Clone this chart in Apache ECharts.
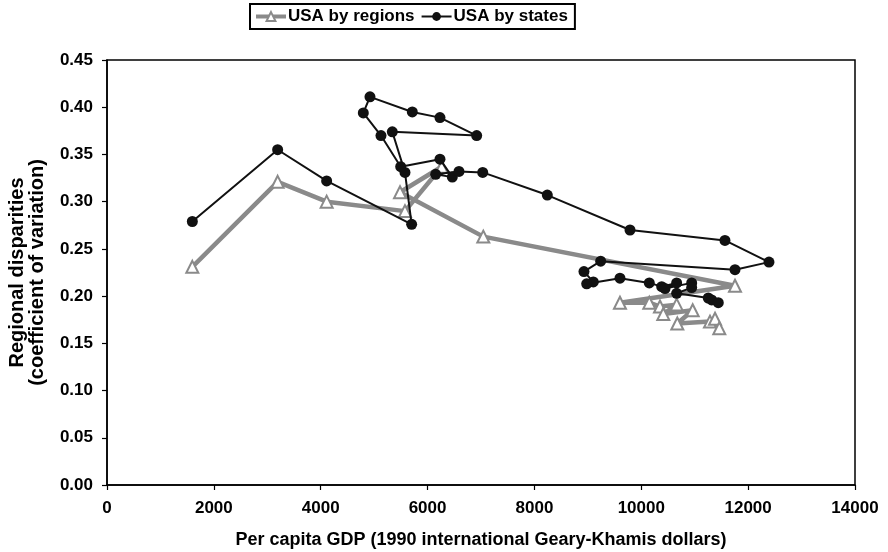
<!DOCTYPE html>
<html>
<head>
<meta charset="utf-8">
<script src="https://cdn.jsdelivr.net/npm/echarts@6/dist/echarts.min.js"></script>
<style>
  html, body { margin: 0; padding: 0; background: #fff; }
  #chart { width: 888px; height: 552px; }
</style>
</head>
<body>
<div id="chart"></div>
<script>
  // values
  var regionsGdp = [1597, 3194, 4111, 5577, 6264, 5484, 7043, 11754, 9601, 10150, 10350, 10662, 10412, 10962, 10674, 11286, 11380, 11460]
  var regionsCv = [0.231, 0.321, 0.300, 0.290, 0.337, 0.310, 0.263, 0.211, 0.193, 0.193, 0.189, 0.191, 0.181, 0.185, 0.171, 0.173, 0.176, 0.166]

  var statesGdp = [1597, 3194, 4111, 5702, 5577, 5340, 6919, 6232, 5714, 4922, 4797, 5128, 5497, 6232, 6463, 6152, 6588, 7032,
    8241, 9789, 11566, 12390, 11754, 9240, 8927, 9102, 8978, 9601, 10150, 10382, 10662, 10444, 10943, 10943, 10662, 11254, 11318, 11441]
  var statesCv = [0.279, 0.355, 0.322, 0.276, 0.331, 0.374, 0.370, 0.389, 0.395, 0.411, 0.394, 0.370, 0.337, 0.345, 0.326, 0.329, 0.332, 0.331,
    0.307, 0.270, 0.259, 0.236, 0.228, 0.237, 0.226, 0.215, 0.213, 0.219, 0.214, 0.210, 0.214, 0.208, 0.214, 0.209, 0.203, 0.198, 0.196, 0.193]

  var xTicks = [0, 14000, 2000]
  var yTicks = [0, 0.45, 0.05]

  function pairs (xs, ys) {
    return xs.map(function (x, i) { return [x, ys[i]] })
  }

  var font = 'Liberation Sans, Arial, sans-serif'
  var grey = '#8a8a8a'
  var dark = '#111'
  var chart = echarts.init(document.getElementById('chart'))

  var option = {
    animation: false,
    textStyle: { fontFamily: font },
    legend: {
      top: 4,
      left: 250,
      orient: 'horizontal',
      itemWidth: 30,
      itemHeight: 11,
      itemGap: 6,
      padding: [4, 7, 4, 4],
      borderColor: '#000',
      borderWidth: 2,
      textStyle: { fontFamily: font, fontWeight: 'bold', fontSize: 17, color: '#000', padding: [0, 0, 0, -3] },
      data: [
        { name: 'USA by regions', lineStyle: { color: grey, width: 4 }, itemStyle: { color: '#fff', borderColor: grey, borderWidth: 2 } },
        { name: 'USA by states', lineStyle: { color: dark, width: 2 }, itemStyle: { color: dark } }
      ]
    },
    grid: {
      left: 107,
      right: 33,
      top: 60,
      bottom: 67,
      show: true,
      borderColor: '#000',
      borderWidth: 1.5,
      containLabel: false,
      outerBoundsMode: 'none'
    },
    xAxis: {
      type: 'value',
      min: xTicks[0],
      max: xTicks[1],
      interval: xTicks[2],
      name: 'Per capita GDP (1990 international Geary-Khamis dollars)',
      nameLocation: 'middle',
      nameGap: 46,
      nameTextStyle: { fontFamily: font, fontWeight: 'bold', fontSize: 18, color: '#000' },
      axisLine: { lineStyle: { color: '#000', width: 1.5 } },
      axisTick: { show: true, inside: false, length: 5, lineStyle: { color: '#000', width: 1.2 } },
      axisLabel: {
        fontFamily: font, fontWeight: 'bold', fontSize: 17, color: '#000', margin: 15,
        formatter: function (v) { return String(v) }
      },
      splitLine: { show: false }
    },
    yAxis: {
      type: 'value',
      min: yTicks[0],
      max: yTicks[1],
      interval: yTicks[2],
      name: 'Regional disparities\n(coefficient of variation)',
      nameLocation: 'middle',
      nameGap: 60,
      nameTextStyle: { fontFamily: font, fontWeight: 'bold', fontSize: 20, color: '#000', lineHeight: 20 },
      axisLine: { lineStyle: { color: '#000', width: 1.5 } },
      axisTick: { show: true, inside: false, length: 5, lineStyle: { color: '#000', width: 1.2 } },
      axisLabel: {
        fontFamily: font, fontWeight: 'bold', fontSize: 17, color: '#000', margin: 14,
        formatter: function (v) { return v.toFixed(2) }
      },
      splitLine: { show: false }
    },
    series: [
      {
        name: 'USA by regions',
        type: 'line',
        data: pairs(regionsGdp, regionsCv),
        symbol: 'triangle',
        symbolSize: 12,
        showAllSymbol: true,
        lineStyle: { color: grey, width: 4.5 },
        itemStyle: { color: '#fff', borderColor: grey, borderWidth: 2 },
        z: 2
      },
      {
        name: 'USA by states',
        type: 'line',
        data: pairs(statesGdp, statesCv),
        symbol: 'circle',
        symbolSize: 11,
        showAllSymbol: true,
        lineStyle: { color: dark, width: 2 },
        itemStyle: { color: dark, borderColor: dark, borderWidth: 0 },
        z: 3
      }
    ]
  }

  chart.setOption(option)
</script>
</body>
</html>
